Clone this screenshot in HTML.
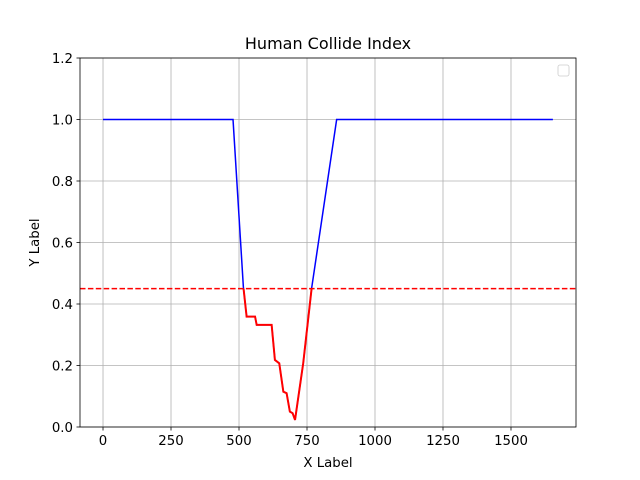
<!DOCTYPE html>
<html><head><meta charset="utf-8"><style>body{margin:0;background:#fff}svg{display:block;font-family:"DejaVu Sans","Liberation Sans",sans-serif}</style></head>
<body>
<svg id="c" width="640" height="480"></svg>
<script>
const xs=[0,478,516,528,559,565,620,632,648,663,675,687,697,706,736,767,859,1654];
const ys=[1,1,0.456,0.359,0.359,0.332,0.332,0.218,0.207,0.115,0.11,0.05,0.045,0.023,0.207,0.451,1,1];
const threshold=0.45;
const xTicks=[0,250,500,750,1000,1250,1500];
const yTicks=[0,0.2,0.4,0.6,0.8,1.0,1.2];
const L=80,R=576,T=58,B=427,xmin=-84.6,xmax=1739,ymin=0,ymax=1.2;
const X=v=>L+(v-xmin)/(xmax-xmin)*(R-L);
const Y=v=>B-(v-ymin)/(ymax-ymin)*(B-T);
const s=document.getElementById('c');const NS='http://www.w3.org/2000/svg';
function mk(t,a,txt){const e=document.createElementNS(NS,t);for(const k in a)e.setAttribute(k,a[k]);if(txt!=null)e.textContent=txt;s.appendChild(e);return e;}
let defs=mk('defs',{});const cp=document.createElementNS(NS,'clipPath');cp.setAttribute('id','below');const cr=document.createElementNS(NS,'rect');cr.setAttribute('x',L);cr.setAttribute('y',Y(threshold));cr.setAttribute('width',R-L);cr.setAttribute('height',B-Y(threshold));cp.appendChild(cr);defs.appendChild(cp);
xTicks.forEach(v=>{let g=mk('line',{x1:X(v),x2:X(v),y1:T,y2:B,stroke:'#b0b0b0','stroke-width':0.8});
mk('line',{x1:X(v),x2:X(v),y1:B,y2:B+3.5,stroke:'#000','stroke-width':0.8});
let t=mk('text',{x:X(v),y:B+18,'text-anchor':'middle','font-size':13.3},String(v));});
yTicks.forEach(v=>{let g=mk('line',{x1:L,x2:R,y1:Y(v),y2:Y(v),stroke:'#b0b0b0','stroke-width':0.8});
mk('line',{x1:L-3.5,x2:L,y1:Y(v),y2:Y(v),stroke:'#000','stroke-width':0.8});
let t=mk('text',{x:L-7,y:Y(v)+5,'text-anchor':'end','font-size':13.3},v.toFixed(1));});
const pts=xs.map((x,i)=>X(x)+','+Y(ys[i])).join(' ');
let bl=mk('polyline',{points:pts,fill:'none',stroke:'#0000ff','stroke-width':1.5});
let rl=mk('polyline',{points:pts,fill:'none',stroke:'#ff0000','stroke-width':2,'clip-path':'url(#below)'});
let th=mk('line',{x1:L,x2:R,y1:Y(threshold),y2:Y(threshold),stroke:'#ff0000','stroke-width':1.5,'stroke-dasharray':'5.5,2.4'});
let fr=mk('rect',{x:L,y:T,width:R-L,height:B-T,fill:'none',stroke:'#000','stroke-width':0.8});
let lg=mk('rect',{x:558,y:65,width:11,height:11,rx:2,fill:'#fff',stroke:'#ccc','stroke-width':0.8});
let ti=mk('text',{x:(L+R)/2,y:49,'text-anchor':'middle','font-size':16},'Human Collide Index');
let xl=mk('text',{x:(L+R)/2,y:467,'text-anchor':'middle','font-size':13.3},'X Label');
let yl=mk('text',{x:39,y:(T+B)/2,'text-anchor':'middle','font-size':13.3,transform:'rotate(-90 39 '+(T+B)/2+')'},'Y Label');
</script>
</body></html>
